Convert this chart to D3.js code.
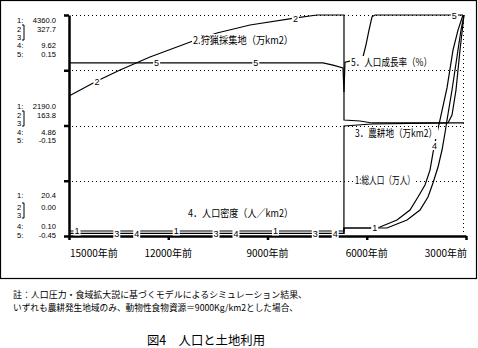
<!DOCTYPE html>
<html lang="ja">
<head>
<meta charset="UTF-8">
<title>図4 人口と土地利用</title>
<script src="https://d3js.org/d3.v7.min.js"></script>
<style>
    body { margin: 0; background: #fff; }
    svg text { font-family: "Noto Sans CJK JP", sans-serif; fill: #000; }
    .num { font-family: "Liberation Sans", "DejaVu Sans", sans-serif; }
</style>
</head>
<body>
<svg id="chart" width="478" height="348"></svg>
<script>
// x axis: years before present
const yearTicks = [15000, 12000, 9000, 6000, 3000];
const yearLabels = ["15000年前", "12000年前", "9000年前", "6000年前", "3000年前"];

// one scale per series (bottom, top)
const rangePop = [20.4, 4360.0];
const rangeLand = [0, 327.7];
const rangeDensity = [0.10, 9.62];
const rangeGrowth = [-0.45, 0.15];

// scale labels shown on the left: top / middle / bottom, rows 1..5
const scaleTop = ["4360.0", "327.7", "", "9.62", "0.15"];
const scaleMid = ["2190.0", "163.8", "", "4.86", "-0.15"];
const scaleBottom = ["20.4", "0.00", "", "0.10", "-0.45"];

// 1: 総人口（万人）  [years ago, value]
const popTotal = [[15000, 118.6], [6690, 118.6], [6688, 177.5], [5390, 177.5], [4783, 334.6], [4390, 531],
    [4149, 786], [3998, 1061], [3846, 1375], [3725, 1709], [3635, 2043], [3574, 2298], [3423, 2887],
    [3242, 3673], [3151, 4065], [3061, 4360]];
// 2: 狩猟採集地（万km2）
const huntLand = [[15000, 207.6], [14154, 229.8], [13458, 246.1], [12552, 265.4], [11252, 289.1],
    [10526, 301.0], [9529, 312.9], [8139, 323.3], [7504, 327.7], [6688, 327.7], [6688, 172.0],
    [6204, 170.5], [5841, 167.6], [3061, 167.6]];
// 3: 農耕地（万km2）
const farmLand = [[15000, 3.7], [6690, 3.7], [6688, 163.1], [5841, 166.1], [3544, 167.6], [3423, 179.4],
    [3302, 216.5], [3181, 275.8], [3061, 327.7]];
// 4: 人口密度（人/km2）
const density = [[15000, 0.21], [6690, 0.21], [6688, 0.445], [5751, 0.445], [5599, 0.488], [5086, 0.789],
    [4693, 1.22], [4451, 1.78], [4239, 2.30], [4088, 2.94], [3998, 3.68], [3877, 4.54], [3786, 5.10],
    [3574, 6.48], [3393, 8.11], [3242, 8.97], [3091, 9.62]];
// 5: 人口成長率（%）
const growth = [[15000, 0.020], [7322, 0.020], [7020, 0.014], [6718, 0.006], [6688, -0.059], [6658, 0.022],
    [6506, 0.025], [6265, 0.030], [6114, 0.036], [6023, 0.069], [5932, 0.109], [5841, 0.145],
    [5751, 0.15], [3091, 0.15]];

const svg = d3.select("#chart");
const plotTop = 15, plotBottom = 236, plotLeft = 69, plotRight = 466;

const x = d3.scaleLinear().domain([15000, 3000]).range([plotLeft, plotRight]);
const mk = r => d3.scaleLinear().domain(r).range([plotBottom, plotTop]);
const series = [
    { id: "1", data: popTotal, y: mk(rangePop) },
    { id: "2", data: huntLand, y: mk(rangeLand) },
    { id: "3", data: farmLand, y: mk(rangeLand) },
    { id: "4", data: density, y: mk(rangeDensity) },
    { id: "5", data: growth, y: mk(rangeGrowth) }
];

// series name labels (drawn last, boxes used to hide markers under them)
const nameLabels = [
    { t: "2.狩猟採集地（万km2）", x: 193, y: 40, w: 100 },
    { t: "5．人口成長率（%）", x: 351, y: 62, w: 81 },
    { t: "3．農耕地（万km2）", x: 355, y: 133, w: 82 },
    { t: "1:総人口（万人）", x: 355, y: 180, w: 60 },
    { t: "4．人口密度（人／km2）", x: 188, y: 213, w: 105 }
];

// frame
svg.append("rect").attr("x", 0.5).attr("y", 0.5).attr("width", 476).attr("height", 278)
    .attr("fill", "none").attr("stroke", "#000").attr("stroke-width", 1.2);

// dotted grid
const yGrid = mk([0, 4]);
[4, 3, 2, 1].forEach(v => {
    svg.append("line").attr("x1", plotLeft + 3).attr("x2", plotRight - 2)
        .attr("y1", Math.round(yGrid(v)) + 0.5).attr("y2", Math.round(yGrid(v)) + 0.5)
        .attr("stroke", "#000").attr("stroke-width", 1).attr("stroke-dasharray", "1,3");
});
svg.append("line").attr("x1", plotRight - 2.5).attr("x2", plotRight - 2.5).attr("y1", plotTop).attr("y2", plotBottom - 2)
    .attr("stroke", "#000").attr("stroke-width", 1).attr("stroke-dasharray", "1,3");

// series lines
const line = s => d3.line().x(d => x(d[0])).y(d => s.y(d[1]));
series.forEach(s => {
    svg.append("path").attr("d", line(s)(s.data))
        .attr("fill", "none").attr("stroke", "#000").attr("stroke-width", 1.2);
});

// axes
const xAxis = svg.append("g").attr("transform", `translate(0,${plotBottom})`)
    .call(d3.axisBottom(x).tickValues(yearTicks).tickSize(4).tickSizeOuter(0).tickFormat(""));
xAxis.select(".domain").attr("stroke-width", 2.5);
xAxis.selectAll(".tick line").attr("stroke-width", 2.5);
const yAxis = svg.append("g").attr("transform", `translate(${plotLeft},0)`)
    .call(d3.axisLeft(yGrid).tickValues([0, 1, 2, 3, 4]).tickSize(5).tickSizeOuter(0).tickFormat(""));
yAxis.select(".domain").attr("stroke-width", 2.5);
yAxis.selectAll(".tick line").attr("stroke-width", 2.5);

svg.selectAll(".xlab").data(yearLabels).enter().append("text")
    .attr("x", (d, i) => x(yearTicks[i]) + (i === 0 ? 1 : i === yearLabels.length - 1 ? 1 : 0))
    .attr("y", 257)
    .attr("text-anchor", (d, i) => i === 0 ? "start" : i === yearLabels.length - 1 ? "end" : "middle")
    .attr("font-size", 10)
    .text(d => d);

// number markers along each line
function yAtPx(s, px) {
    const pts = s.data.map(d => [x(d[0]), s.y(d[1])]);
    for (let i = 0; i < pts.length - 1; i++) {
        const [x0, y0] = pts[i], [x1, y1] = pts[i + 1];
        if (x1 !== x0 && (x0 - px) * (x1 - px) <= 0) return y0 + (y1 - y0) * (px - x0) / (x1 - x0);
    }
    return pts[pts.length - 1][1];
}
const hidden = (px, py) => nameLabels.some(l =>
    px + 3.5 > l.x - 1 && px - 3.5 < l.x + l.w + 1 && py + 4.5 > l.y - 6 && py - 4.5 < l.y + 6);
series.forEach((s, i) => {
    for (let k = 0; k < 4; k++) {
        const px = plotLeft + 8 + i * 19.9 + k * 99.25;
        const py = yAtPx(s, px);
        if (hidden(px, py)) continue;
        const g = svg.append("g");
        g.append("rect").attr("x", px - 3.5).attr("y", py - 4.5).attr("width", 7).attr("height", 9).attr("fill", "#fff");
        g.append("text").attr("class", "num").attr("x", px).attr("y", py + 3.5)
            .attr("text-anchor", "middle").attr("font-size", 9).text(s.id);
    }
});

nameLabels.forEach(l => {
    svg.append("rect").attr("x", l.x - 1).attr("y", l.y - 6).attr("width", l.w + 2).attr("height", 12).attr("fill", "#fff");
    svg.append("text").attr("x", l.x).attr("y", l.y + 4).attr("font-size", 10.5)
        .attr("textLength", l.w).attr("lengthAdjust", "spacingAndGlyphs").text(l.t);
});

// left scale labels
const groups = [
    { vals: scaleTop, ys: [20, 28.5, 37, 45, 53.5] },
    { vals: scaleMid, ys: [106, 114.5, 123, 131.5, 140] },
    { vals: scaleBottom, ys: [195, 206.5, 215, 226, 234.5] }
];
const ids = ["1:", "2", "3", "4:", "5:"];
groups.forEach(g => {
    ids.forEach((id, i) => {
        svg.append("text").attr("class", "num").attr("x", 17).attr("y", g.ys[i] + 3)
            .attr("font-size", 7.6).text(id);
        if (g.vals[i]) {
            svg.append("text").attr("class", "num").attr("x", 56).attr("y", g.ys[i] + 3)
                .attr("text-anchor", "end").attr("font-size", 7.6).text(g.vals[i]);
        }
    });
    svg.append("path")
        .attr("d", `M22,${g.ys[1] - 3.5}H24V${g.ys[2] + 3}H22`)
        .attr("fill", "none").attr("stroke", "#000").attr("stroke-width", 1);
});

// notes and title
svg.append("text").attr("x", 13).attr("y", 298).attr("font-size", 8.6)
    .attr("textLength", 294).attr("lengthAdjust", "spacingAndGlyphs")
    .text("註：人口圧力・食域拡大説に基づくモデルによるシミュレーション結果、");
svg.append("text").attr("x", 13).attr("y", 311).attr("font-size", 8.6)
    .attr("textLength", 285).attr("lengthAdjust", "spacingAndGlyphs")
    .text("いずれも農耕発生地域のみ、動物性食物資源＝9000Kg/km2とした場合、");
svg.append("text").attr("x", 147).attr("y", 345).attr("font-size", 12.5)
    .attr("textLength", 118).attr("lengthAdjust", "spacingAndGlyphs")
    .text("図4　人口と土地利用");
</script>
</body>
</html>
